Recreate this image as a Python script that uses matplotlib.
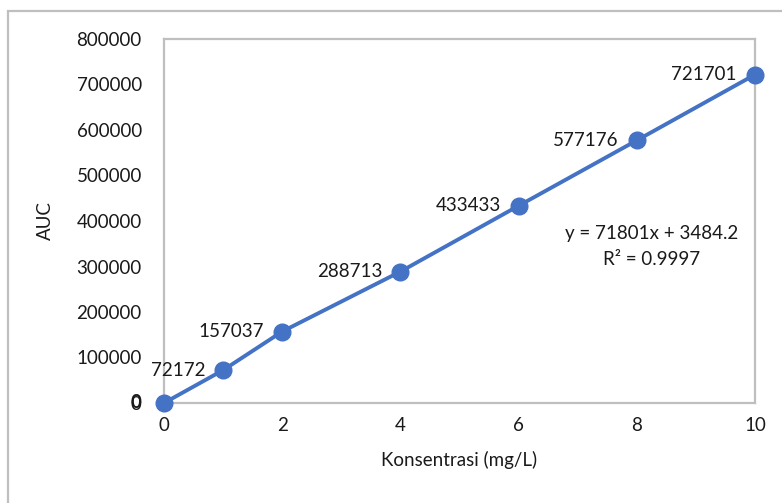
import matplotlib
matplotlib.use("Agg")
import matplotlib.pyplot as plt
from matplotlib.patches import Rectangle

# calibration data
konsentrasi = [0, 1, 2, 4, 6, 8, 10]
auc = [0, 72172, 157037, 288713, 433433, 577176, 721701]
y_ticks = [0, 100000, 200000, 300000, 400000, 500000, 600000, 700000, 800000]
x_ticks = [0, 2, 4, 6, 8, 10]
equation = "y = 71801x + 3484.2"
r_squared = "R² = 0.9997"

plt.rcParams['font.family'] = ['Lato', 'DejaVu Sans']
txt_color = '#1a1a1a'
blue = '#4472C4'
frame_gray = '#BFBFBF'

fig = plt.figure(figsize=(7.82, 5.03), dpi=100)
ax = fig.add_axes([164/782, 1 - 403/503, (755 - 164)/782, (403 - 39)/503])

# outer chart frame
fig.patches.append(Rectangle((8/782, -0.1), 1.2, 1 - 11/503 + 0.1, transform=fig.transFigure,
                             fill=False, edgecolor=frame_gray, lw=1.6, zorder=0))

ax.plot(konsentrasi, auc, color=blue, lw=2.8, marker='o', markersize=12,
        markerfacecolor=blue, markeredgecolor=blue, clip_on=False, zorder=3)

for xv, yv in zip(konsentrasi, auc):
    if yv == 0:
        # sits on top of the y tick label, which makes it look bold
        ax.annotate(str(yv), (xv, yv), xytext=(-16, 0), textcoords='offset points',
                    ha='right', va='center', fontsize=13.5, color=txt_color, fontweight='bold')
    else:
        ax.annotate(str(yv), (xv, yv), xytext=(-13, 0), textcoords='offset points',
                    ha='right', va='center', fontsize=13.5, color=txt_color)

ax.text(0.825, 0.466, equation, transform=ax.transAxes, ha='center', va='center',
        fontsize=13.5, color=txt_color)
ax.text(0.825, 0.395, r_squared, transform=ax.transAxes, ha='center', va='center',
        fontsize=13.5, color=txt_color)

ax.set_xlim(0, 10)
ax.set_ylim(0, 800000)
ax.set_xticks(x_ticks)
ax.set_yticks(y_ticks)
ax.set_yticklabels([str(v) for v in y_ticks])
ax.tick_params(length=0, labelsize=13.5, labelcolor=txt_color)
ax.tick_params(axis='y', pad=16)
ax.tick_params(axis='x', pad=10)

for s in ax.spines.values():
    s.set_color(frame_gray)
    s.set_linewidth(1.6)

ax.set_xlabel("Konsentrasi (mg/L)", fontsize=13.5, color=txt_color, labelpad=12)
ax.set_ylabel("AUC", fontsize=13.5, color=txt_color, labelpad=16)

plt.savefig("out.png", dpi=100)
